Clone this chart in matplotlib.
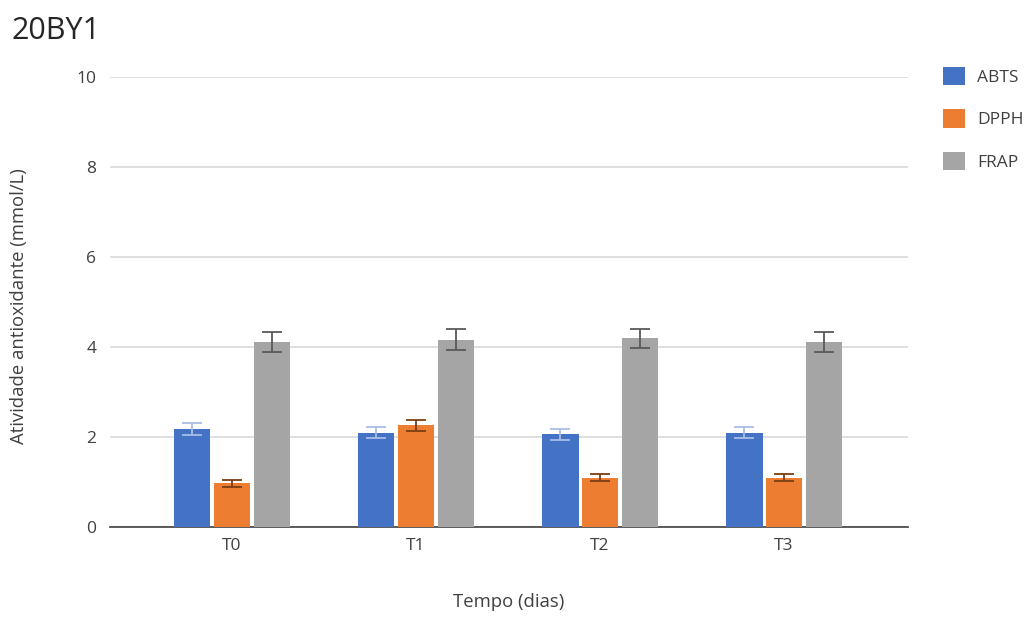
import numpy as np
import matplotlib.pyplot as plt

plt.rcParams['font.family'] = ['Open Sans', 'DejaVu Sans']

tempos = ['T0', 'T1', 'T2', 'T3']
abts = [2.18, 2.10, 2.06, 2.10]
abts_err = [0.13, 0.12, 0.12, 0.12]
dpph = [0.97, 2.26, 1.10, 1.10]
dpph_err = [0.07, 0.12, 0.08, 0.07]
frap = [4.12, 4.16, 4.19, 4.12]
frap_err = [0.22, 0.23, 0.22, 0.22]

fig = plt.figure(figsize=(10.34, 6.18), dpi=100)
ax = fig.add_axes([0.1064, 0.1472, 0.7718, 0.7282])

x = np.arange(len(tempos))
w = 0.2
d = 0.217

series = [
    ('ABTS', abts, abts_err, '#4472C4', '#A9BEE6', -d),
    ('DPPH', dpph, dpph_err, '#ED7D31', '#7A3E12', 0),
    ('FRAP', frap, frap_err, '#A5A5A5', '#595959', d),
]
for nome, vals, errs, cor, ecor, off in series:
    ax.bar(x + off, vals, w, color=cor, label=nome, zorder=3)
    ax.errorbar(x + off, vals, yerr=errs, fmt='none', ecolor=ecor,
                elinewidth=1.3, capsize=7.5, capthick=1.3, zorder=4)

ax.set_xlim(-0.663, 3.674)
ax.set_ylim(0, 10)
ax.set_yticks([0, 2, 4, 6, 8, 10])
ax.set_xticks(x)
ax.set_xticklabels(tempos)
ax.grid(axis='y', color='#D9D9D9', linewidth=1.2, zorder=0)
ax.tick_params(length=0, labelsize=12.5, colors='#404040', pad=10)
ax.tick_params(axis='x', pad=8)
for s in ['top', 'right', 'left']:
    ax.spines[s].set_visible(False)
ax.spines['bottom'].set_color('#404040')
ax.spines['bottom'].set_linewidth(1.2)

ax.set_xlabel('Tempo (dias)', fontsize=13.3, color='#404040', labelpad=28)
ax.set_ylabel('Atividade antioxidante (mmol/L)', fontsize=13.3, color='#404040')
ax.yaxis.set_label_coords(-0.103, 0.49)

fig.text(0.011, 0.95, '20BY1', fontsize=22, color='#262626', va='center', ha='left')

fig.legend(loc='upper left', bbox_to_anchor=(0.912, 0.892), frameon=False,
           borderpad=0, borderaxespad=0,
           fontsize=12.5, handlelength=1.27, handleheight=1.27, labelspacing=1.35,
           handletextpad=0.7, labelcolor='#404040')

fig.savefig('out.png', dpi=100)
